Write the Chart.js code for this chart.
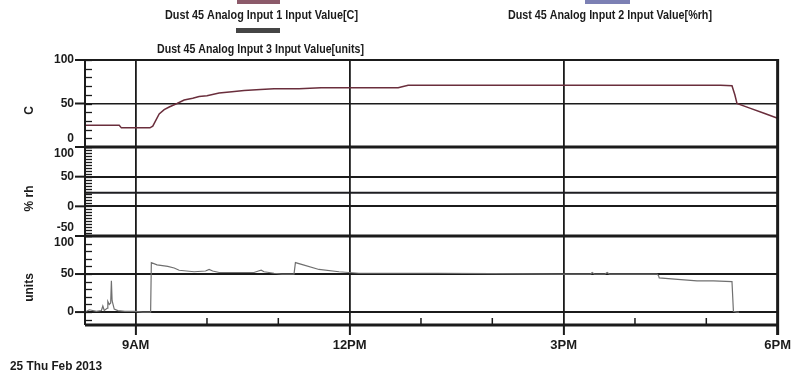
<!DOCTYPE html>
<html>
<head>
<meta charset="utf-8">
<script src="https://cdn.jsdelivr.net/npm/chart.js@4.4.1/dist/chart.umd.min.js"></script>
<style>
  html, body { margin: 0; padding: 0; background: #fff; }
  canvas { display: block; }
</style>
</head>
<body>
<canvas id="c" width="794" height="375"></canvas>
<script>
// Time of day in decimal hours, with the reading logged for each input
const tempHours = [8.29, 8.50, 8.77, 8.80, 9.00, 9.20, 9.24, 9.33, 9.40, 9.47, 9.58, 9.68, 9.80, 9.89, 10.00, 10.17, 10.35, 10.52, 10.75, 10.94, 11.29, 11.60, 12.00, 12.40, 12.68, 12.82, 13.50, 14.50, 15.50, 16.50, 17.20, 17.36, 17.40, 17.43, 17.60, 17.80, 18.00];
const tempValues = [25, 25, 25, 22, 22, 22, 24, 38, 43, 46, 50, 54, 56, 58, 59, 62, 63.5, 65, 66, 67, 67, 68, 68, 68, 68, 71, 71, 71, 71, 71, 71, 70.5, 60, 50, 45, 39, 33];

const rhHours = [8.29, 18.00];
const rhValues = [23, 23];

const unitHours = [8.29, 8.35, 8.45, 8.52, 8.54, 8.56, 8.60, 8.61, 8.63, 8.65, 8.66, 8.67, 8.70, 8.75, 8.85, 9.00, 9.10, 9.21, 9.22, 9.30, 9.45, 9.54, 9.61, 9.82, 9.98, 10.03, 10.08, 10.17, 10.66, 10.72, 10.76, 10.80, 10.94, 11.05, 11.22, 11.24, 11.35, 11.57, 11.85, 12.13, 13.24, 14.00, 14.92, 15.38, 15.40, 15.43, 15.58, 15.61, 15.64, 16.31, 16.33, 16.34, 16.60, 16.87, 17.10, 17.36, 17.38, 17.43, 17.46];
const unitValues = [0, 3, 1, 2, 8, 2, 5, 14, 10, 12, 41, 15, 4, 2, 1, 1, 0, 0, 65, 62, 60, 58, 55, 53, 54, 56, 54, 52, 52, 54, 55, 53, 51, 50, 50, 65, 62, 56, 53, 51, 51, 50.5, 50, 50, 52, 50, 50, 52, 50, 50, 48, 45, 43, 41, 41, 40, 1, 0, 0];

// Axis ticks and text
const xTickValues = [9, 12, 15, 18];
const xTickLabels = ['9AM', '12PM', '3PM', '6PM'];
const xMinorHours = [10, 11, 13, 14, 16, 17];
const yTempTicks = [0, 50, 100];
const yRhTicks = [-50, 0, 50, 100];
const yUnitTicks = [0, 50, 100];
const seriesNames = [
  'Dust 45 Analog Input 1 Input Value[C]',
  'Dust 45 Analog Input 2 Input Value[%rh]',
  'Dust 45 Analog Input 3 Input Value[units]'
];
const axisTitles = ['C', '% rh', 'units'];
const dateLabel = '25 Thu Feb 2013';

const INK = '#1b1b1b';
const FONT = '"Liberation Sans", Arial, sans-serif';
const seriesColors = ['#6a2e3c', '#1e1e22', '#707070'];
const swatchColors = ['#8c5a6a', '#7c80b4', '#454545'];

const toPoints = (hours, values) => hours.map((h, i) => ({ x: h, y: values[i] }));

// Draw text squeezed to a given width, left edge at x, vertically centred on y
function fitText(ctx, text, x, y, width, font) {
  ctx.save();
  ctx.font = font;
  const w = ctx.measureText(text).width;
  ctx.translate(x, y);
  ctx.scale(width / w, 1);
  ctx.textAlign = 'left';
  ctx.textBaseline = 'middle';
  ctx.fillText(text, 0, 0);
  ctx.restore();
}

const panels = [
  { id: 'yC', minor: 10, title: axisTitles[0] },
  { id: 'yRh', minor: 5, title: axisTitles[1] },
  { id: 'yUnits', minor: 10, title: axisTitles[2] }
];

// Legend layout: swatch box and text box for each series
const legendBoxes = [
  { sx: 237, sy: 0, sw: 43, sh: 4, tx: 165, ty: 15, tw: 193 },
  { sx: 585, sy: 0, sw: 45, sh: 4, tx: 508, ty: 15, tw: 204 },
  { sx: 236, sy: 28, sw: 44, sh: 5, tx: 157, ty: 49, tw: 207 }
];

const panelDecor = {
  id: 'panelDecor',
  afterDraw(chart) {
    const ctx = chart.ctx;
    const area = chart.chartArea;
    const xs = chart.scales.x;
    const line = (x1, y1, x2, y2, w) => {
      ctx.lineWidth = w;
      ctx.beginPath();
      ctx.moveTo(x1, y1);
      ctx.lineTo(x2, y2);
      ctx.stroke();
    };
    ctx.save();
    ctx.strokeStyle = INK;
    ctx.fillStyle = INK;

    panels.forEach(p => {
      const s = chart.scales[p.id];
      // inner minor ticks
      for (let v = Math.ceil(s.min / p.minor) * p.minor; v <= s.max; v += p.minor) {
        const py = Math.round(s.getPixelForValue(v)) + 0.5;
        line(area.left, py, area.left + 7, py, 1.3);
      }
      // outer major ticks and labels
      ctx.font = 'bold 12px ' + FONT;
      ctx.textAlign = 'right';
      ctx.textBaseline = 'middle';
      s.ticks.forEach(t => {
        const py = s.getPixelForValue(t.value);
        line(area.left - 10, py, area.left, py, 2);
        let ly = py;
        if (Math.abs(py - s.bottom) < 2) ly -= 8;
        else if (Math.abs(py - s.top) < 2 && s.top > area.top + 2) ly += 7;
        ctx.fillText(String(t.value), area.left - 11, ly);
      });
      // axis title
      ctx.save();
      ctx.translate(30, (s.top + s.bottom) / 2 + 7);
      ctx.rotate(-Math.PI / 2);
      ctx.textAlign = 'center';
      ctx.fillText(p.title, 0, 0);
      ctx.restore();
      // panel separator
      line(area.left, s.bottom, area.right, s.bottom, 3);
    });

    line(area.left, area.top, area.right, area.top, 2);
    line(area.left, area.top, area.left, area.bottom, 2);
    line(area.right, area.top - 1, area.right, area.bottom + 10, 3);

    // hourly minor ticks along the bottom
    xMinorHours.forEach(h => {
      const px = xs.getPixelForValue(h);
      line(px, area.bottom, px, area.bottom - 7, 1.5);
    });

    // legend
    chart.data.datasets.forEach((ds, i) => {
      const b = legendBoxes[i];
      ctx.fillStyle = swatchColors[i];
      ctx.fillRect(b.sx, b.sy, b.sw, b.sh);
      ctx.fillStyle = INK;
      fitText(ctx, ds.label, b.tx, b.ty, b.tw, 'bold 13px ' + FONT);
    });

    // date under the time axis
    fitText(ctx, dateLabel, 10, 366, 92, 'bold 13px ' + FONT);
    ctx.restore();
  }
};

const boundsHidden = c => (c.tick && (c.tick.value === c.scale.min || c.tick.value === c.scale.max)) ? 'rgba(0,0,0,0)' : INK;

function yScale(ticks, min, max, weight, gridWidth) {
  return {
    type: 'linear',
    position: 'left',
    stack: 'panels',
    stackWeight: weight,
    min, max,
    afterBuildTicks: s => { s.ticks = ticks.map(v => ({ value: v })); },
    afterFit: s => { s.width = 85; },
    ticks: { display: false },
    border: { display: false },
    grid: { drawTicks: false, color: boundsHidden, lineWidth: gridWidth }
  };
}

new Chart(document.getElementById('c'), {
  type: 'line',
  data: {
    datasets: [
      { label: seriesNames[0], data: toPoints(tempHours, tempValues), yAxisID: 'yC', borderColor: seriesColors[0], borderWidth: 1.5 },
      { label: seriesNames[1], data: toPoints(rhHours, rhValues), yAxisID: 'yRh', borderColor: seriesColors[1], borderWidth: 2 },
      { label: seriesNames[2], data: toPoints(unitHours, unitValues), yAxisID: 'yUnits', borderColor: seriesColors[2], borderWidth: 1.2 }
    ]
  },
  options: {
    responsive: false,
    devicePixelRatio: 1,
    animation: false,
    parsing: false,
    elements: { point: { radius: 0 }, line: { tension: 0 } },
    layout: { padding: { top: 60, right: 14, left: 0, bottom: 0 } },
    plugins: { legend: { display: false }, tooltip: { enabled: false } },
    scales: {
      x: {
        type: 'linear',
        min: 8.29,
        max: 18,
        afterBuildTicks: s => { s.ticks = xTickValues.map(v => ({ value: v })); },
        afterFit: s => { s.height = 50; },
        border: { display: false },
        grid: { color: INK, lineWidth: 1.8, tickLength: 10, tickColor: INK, tickWidth: 2 },
        ticks: {
          autoSkip: false,
          maxRotation: 0,
          padding: 3,
          color: INK,
          font: { family: FONT, size: 13, weight: 'bold' },
          callback: v => xTickLabels[xTickValues.indexOf(v)]
        }
      },
      yUnits: yScale(yUnitTicks, -17, 100, 89, 2),
      yRh: yScale(yRhTicks, -50, 100, 89, 2),
      yC: yScale(yTempTicks, 0, 100, 87, 1.5)
    }
  },
  plugins: [panelDecor]
});
</script>
</body>
</html>
